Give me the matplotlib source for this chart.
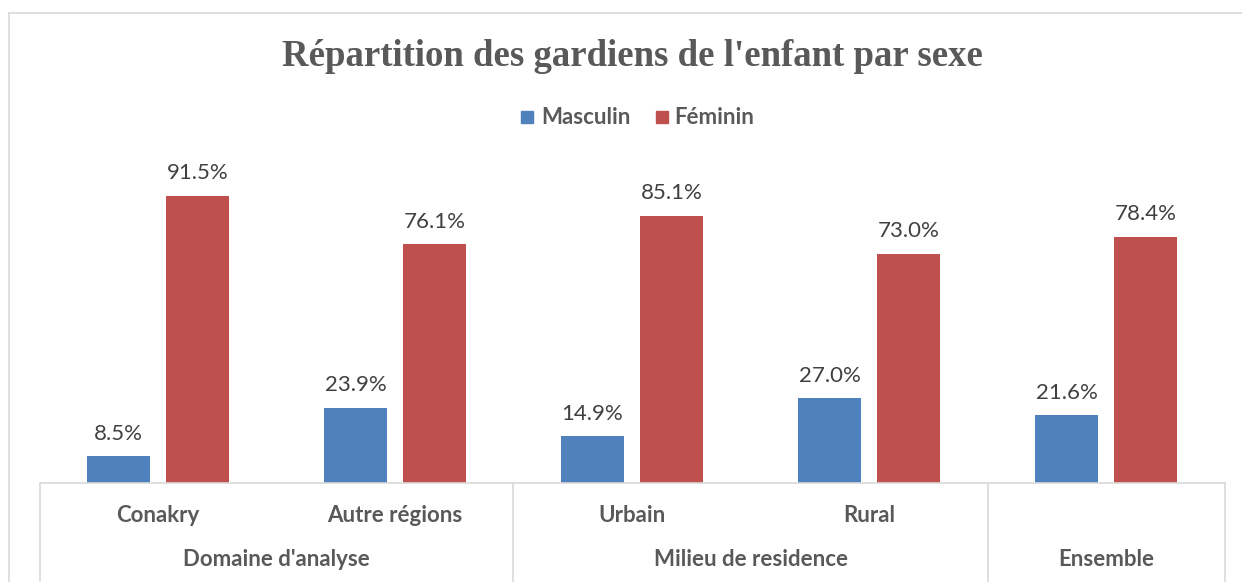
import matplotlib
matplotlib.use("Agg")
import matplotlib.pyplot as plt
from matplotlib.patches import Rectangle
from matplotlib.lines import Line2D

title = "Répartition des gardiens de l'enfant par sexe"
categories = ["Conakry", "Autre régions", "Urbain", "Rural", "Ensemble"]
groups = ["Domaine d'analyse", "Milieu de residence", "Ensemble"]
group_spans = [(0, 2), (2, 4), (4, 5)]
series_names = ["Masculin", "Féminin"]
masculin = [8.5, 23.9, 14.9, 27.0, 21.6]
feminin = [91.5, 76.1, 85.1, 73.0, 78.4]
colors = ["#4F81BD", "#C0504D"]

W, H = 1242, 582
fig = plt.figure(figsize=(W / 100, H / 100), dpi=100)

def fx(px):
    return px / W

def fy(py):
    return 1 - py / H

# outer chart frame
fig.add_artist(Line2D([fx(9), fx(9)], [fy(13), fy(582)], color="#D9D9D9", lw=1.2))
fig.add_artist(Line2D([fx(9), fx(1242)], [fy(13), fy(13)], color="#D9D9D9", lw=1.2))

ax_left, ax_right = 39.5, 1224.5
ax_bottom, ax_top = 483, 169
ax = fig.add_axes([fx(ax_left), fy(ax_bottom), fx(ax_right - ax_left), fy(ax_top) - fy(ax_bottom)])
ax.set_xlim(-0.5, len(categories) - 0.5)
ax.set_ylim(0, 100)
ax.axis("off")

bw = 0.266
off = 0.1667
xs = list(range(len(categories)))
for vals, sign, col in [(masculin, -1, colors[0]), (feminin, 1, colors[1])]:
    pos = [x + sign * off for x in xs]
    ax.bar(pos, vals, width=bw, color=col, zorder=2)
    for p, v in zip(pos, vals):
        ax.annotate(f"{v:.1f}%", (p, v), xytext=(0, 9), textcoords="offset points",
                    ha="center", va="bottom", fontsize=16, color="#404040",
                    family="Lato", annotation_clip=False)

# category axis with dividers
line_col = "#D9D9D9"
fig.add_artist(Line2D([fx(39.5), fx(1224.5)], [fy(483), fy(483)], color=line_col, lw=1.2))
for px in [39.5, 513, 988, 1224.5]:
    fig.add_artist(Line2D([fx(px), fx(px)], [fy(483), fy(582)], color=line_col, lw=1.2))

for i, c in enumerate(categories):
    if c == "Ensemble":
        continue
    xd = ax.transData.transform((i, 0))[0]
    fig.text(xd / W, fy(515), c, ha="center", va="center", fontsize=16,
             fontweight="bold", color="#595959", family="Lato")
for g, (a, b) in zip(groups, group_spans):
    xd = ax.transData.transform(((a + b - 1) / 2, 0))[0]
    fig.text(xd / W, fy(560), g, ha="center", va="center", fontsize=16,
             fontweight="bold", color="#595959", family="Lato")

# title
fig.text(fx(632), fy(66), title, ha="center", va="baseline", fontsize=26.5,
         fontweight="bold", color="#595959", family="Liberation Serif")

# legend
leg_y = 117
fig.add_artist(Rectangle((fx(521), fy(123)), fx(12), fy(111) - fy(123), color=colors[0]))
fig.text(fx(541), fy(leg_y), series_names[0], ha="left", va="center", fontsize=16,
         fontweight="bold", color="#595959", family="Lato")
fig.add_artist(Rectangle((fx(656), fy(123)), fx(12), fy(111) - fy(123), color=colors[1]))
fig.text(fx(674), fy(leg_y), series_names[1], ha="left", va="center", fontsize=16,
         fontweight="bold", color="#595959", family="Lato")

fig.savefig("out.png", dpi=100)
